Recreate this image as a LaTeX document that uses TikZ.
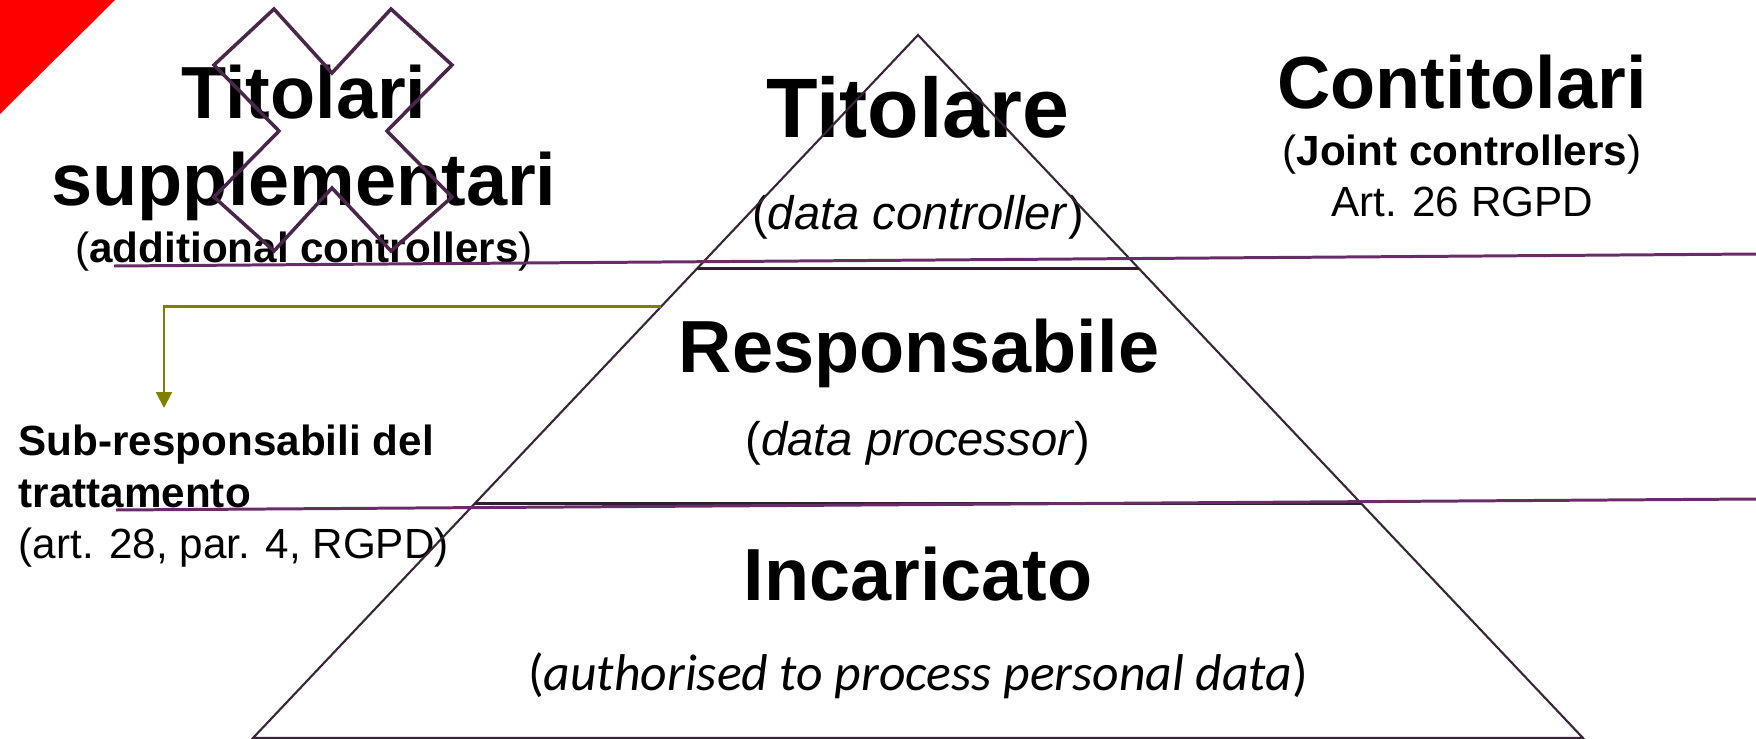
\documentclass[tikz,border=0pt]{standalone}
\usepackage{fontspec}
\setmainfont{Liberation Sans}
\newfontfamily\calfont{Carlito}
\usetikzlibrary{arrows.meta,calc}
\definecolor{plum}{RGB}{104,44,104}
\definecolor{crossplum}{RGB}{74,38,74}
\definecolor{pyredge}{RGB}{58,36,56}
\definecolor{olivearr}{RGB}{128,128,0}
\begin{document}
\begin{tikzpicture}[x=0.01cm,y=-0.01cm,
  lbl/.style={anchor=base,inner sep=0pt},
  big/.style={lbl,font=\fontsize{21}{25}\selectfont\bfseries},
  sub/.style={lbl,font=\fontsize{12}{14}\selectfont},
  role/.style={lbl,font=\fontsize{13.4}{16}\selectfont},
  level/.style={draw=pyredge!80!black,line width=0.85pt},
  rule/.style={draw=plum,line width=0.85pt}]
\useasboundingbox (0,0) rectangle (1756,739);
\fill[red] (0,0) -- (115,0) -- (0,114) -- cycle;
% pyramid corners
\coordinate (apex) at (918,35); \coordinate (bl) at (253,738); \coordinate (br) at (1583,738);
% texts inside the pyramid
\node[lbl,font=\fontsize{24}{28}\selectfont\bfseries] (tit) at (918,137) {Titolare};
\node[role] (titsub) at (918,229) {(\textit{data controller})};
\node[big] (resp) at (919,372) {Responsabile};
\node[role] (respsub) at (918,455) {(\textit{data processor})};
\node[big] (inc) at (918,600) {Incaricato};
\node[lbl,font=\fontsize{14.7}{17}\selectfont\calfont] (incsub) at (918,690) {(\textit{authorised to process personal data})};
% side texts
\node[big] (tsup1) at (304,118) {Titolari};
\node[big] (tsup2) at (304,205) {supplementari};
\node[sub] (tsup3) at (304,262) {(\textbf{additional controllers})};
\node[big] (cont) at (1462,108) {Contitolari};
\node[sub] (contsub) at (1462,165) {(\textbf{Joint controllers})};
\node[sub] (contart) at (1462,216) {Art. 26 RGPD};
\node[sub,anchor=base west,font=\fontsize{12}{14}\selectfont\bfseries] (subr1) at (18,455) {Sub-responsabili del};
\node[sub,anchor=base west,font=\fontsize{12}{14}\selectfont\bfseries] (subr2) at (18,507) {trattamento};
\node[sub,anchor=base west] (subr3) at (18,558) {(art. 28, par. 4, RGPD)};
% pyramid and levels
\draw[draw=pyredge,line width=0.6pt] (apex) -- (bl) -- (br) -- cycle;
\draw[level] ($(apex)!0.3324!(bl)$) -- ($(apex)!0.3324!(br)$);
\draw[level] ($(apex)!0.6662!(bl)$) -- ($(apex)!0.6662!(br)$);
% arrow to the sub-processors
\coordinate (edge) at ($(apex)!0.3864!(bl)$);
\coordinate (drop) at (164,408);
\draw[olivearr,line width=0.65pt,-{Triangle[length=4.5pt,width=4.5pt]}] (edge) -| (drop);
% long rules
\draw[rule] (114,266) -- (1756,254);
\draw[rule] (116,510) -- (1756,499);
% cross over the additional controllers
\draw[crossplum,line width=1pt,line join=miter] (274,9) -- (332,73) -- (391,9) -- (452,65) -- (387,131) -- (452,197)
  -- (391,251) -- (332,188) -- (274,251) -- (214,197) -- (279,131) -- (214,65) -- cycle;
\end{tikzpicture}
\end{document}
